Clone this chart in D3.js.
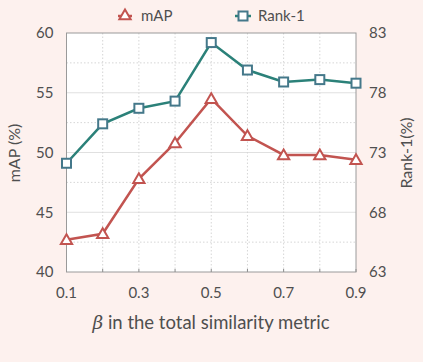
<!DOCTYPE html>
<html>
<head>
<meta charset="utf-8">
<script src="https://cdn.jsdelivr.net/npm/d3@7"></script>
<style>
  body { margin: 0; background: #fdf1ee; }
  svg { display: block; }
  text { font-family: Lato, "Open Sans", sans-serif; fill: #4f4f4f; }
</style>
</head>
<body>
<svg width="423" height="362"></svg>
<script>
// data
var betas = [0.1, 0.2, 0.3, 0.4, 0.5, 0.6, 0.7, 0.8, 0.9];
var mapVals = [42.7, 43.2, 47.8, 50.8, 54.5, 51.4, 49.8, 49.8, 49.4];
var rank1Vals = [72.1, 75.4, 76.7, 77.3, 82.2, 79.9, 78.9, 79.1, 78.8];
var xLabels = [0.1, 0.3, 0.5, 0.7, 0.9];
var leftTicks = [40, 45, 50, 55, 60];
var rightTicks = [63, 68, 73, 78, 83];

var svg = d3.select("svg"),
    margin = {top: 33, right: 67, bottom: 90, left: 66.5},
    width = 423 - margin.left - margin.right,
    height = 362 - margin.top - margin.bottom,
    g = svg.append("g").attr("transform", "translate(" + margin.left + "," + margin.top + ")");

var x = d3.scaleLinear().domain([0.1, 0.9]).range([0, width]);
var yL = d3.scaleLinear().domain([40, 60]).range([height, 0]);
var yR = d3.scaleLinear().domain([63, 83]).range([height, 0]);

var red = "#c25450", teal = "#2b8179", sqStroke = "#44788a";

// plot background
g.append("rect").attr("width", width).attr("height", height).attr("fill", "#fff");

// horizontal grid: solid at labelled ticks, dotted between
var minor = [42.5, 47.5, 52.5, 57.5];
g.selectAll(".hmaj").data([45, 50, 55]).enter().append("line")
  .attr("x1", 0).attr("x2", width)
  .attr("y1", function(d) { return yL(d); }).attr("y2", function(d) { return yL(d); })
  .attr("stroke", "#e0e0e0").attr("stroke-width", 1);
g.selectAll(".hmin").data(minor).enter().append("line")
  .attr("x1", 0).attr("x2", width)
  .attr("y1", function(d) { return yL(d); }).attr("y2", function(d) { return yL(d); })
  .attr("stroke", "#d6d6d6").attr("stroke-dasharray", "1.5,2");
g.selectAll(".vgrid").data(betas.slice(1, -1)).enter().append("line")
  .attr("x1", function(d) { return x(d); }).attr("x2", function(d) { return x(d); })
  .attr("y1", 0).attr("y2", height)
  .attr("stroke", "#d6d6d6").attr("stroke-dasharray", "1.5,2");

// bottom tick marks (inside)
g.selectAll(".xt").data(betas).enter().append("line")
  .attr("x1", function(d) { return x(d); }).attr("x2", function(d) { return x(d); })
  .attr("y1", height).attr("y2", height - 3)
  .attr("stroke", "#888");

// frame
g.append("rect").attr("width", width).attr("height", height)
  .attr("fill", "none").attr("stroke", "#9a9a9a").attr("stroke-width", 1);

// tick labels
g.selectAll(".lt").data(leftTicks).enter().append("text")
  .attr("x", -13).attr("y", function(d) { return yL(d); })
  .attr("dy", "0.35em").attr("text-anchor", "end").attr("font-size", 15)
  .text(function(d) { return d; });
g.selectAll(".rt").data(rightTicks).enter().append("text")
  .attr("x", width + 13).attr("y", function(d) { return yR(d); })
  .attr("dy", "0.35em").attr("text-anchor", "start").attr("font-size", 15)
  .text(function(d) { return d; });
g.selectAll(".bt").data(xLabels).enter().append("text")
  .attr("x", function(d) { return x(d); }).attr("y", height + 21)
  .attr("dy", "0.35em").attr("text-anchor", "middle").attr("font-size", 15)
  .text(function(d) { return d3.format(".1f")(d); });

// axis titles
svg.append("text").attr("transform", "translate(20,153) rotate(-90)")
  .attr("text-anchor", "middle").attr("font-size", 16).text("mAP (%)");
svg.append("text").attr("transform", "translate(412,153) rotate(-90)")
  .attr("text-anchor", "middle").attr("font-size", 16).text("Rank-1(%)");
var xt = svg.append("text").attr("x", 211).attr("y", 329)
  .attr("text-anchor", "middle").attr("font-size", 18.5);
xt.append("tspan").attr("font-style", "italic").attr("font-family", "DejaVu Serif, serif").text("β");
xt.append("tspan").text(" in the total similarity metric");

// lines
var lineL = d3.line().x(function(d, i) { return x(betas[i]); }).y(function(d) { return yL(d); });
var lineR = d3.line().x(function(d, i) { return x(betas[i]); }).y(function(d) { return yR(d); });

g.append("path").attr("d", lineR(rank1Vals)).attr("fill", "none")
  .attr("stroke", teal).attr("stroke-width", 2.5);
g.append("path").attr("d", lineL(mapVals)).attr("fill", "none")
  .attr("stroke", red).attr("stroke-width", 2.5);

var tri = d3.symbol().type(d3.symbolTriangle).size(55);

g.selectAll(".sq").data(rank1Vals).enter().append("rect")
  .attr("x", function(d, i) { return x(betas[i]) - 4.5; })
  .attr("y", function(d) { return yR(d) - 4.5; })
  .attr("width", 9).attr("height", 9)
  .attr("fill", "#fff").attr("stroke", sqStroke).attr("stroke-width", 2);
g.selectAll(".tri").data(mapVals).enter().append("path")
  .attr("d", tri)
  .attr("transform", function(d, i) { return "translate(" + x(betas[i]) + "," + (yL(d) + 1) + ")"; })
  .attr("fill", "#fff").attr("stroke", red).attr("stroke-width", 2);

// legend
var legend = svg.append("g").attr("font-size", 15);
legend.append("line").attr("x1", 118).attr("x2", 132).attr("y1", 16).attr("y2", 16)
  .attr("stroke", red).attr("stroke-width", 2.5);
legend.append("path").attr("d", tri).attr("transform", "translate(125,16)")
  .attr("fill", "#fff").attr("stroke", red).attr("stroke-width", 2);
legend.append("text").attr("x", 141).attr("y", 16).attr("dy", "0.35em").text("mAP");
legend.append("line").attr("x1", 235).attr("x2", 251).attr("y1", 16).attr("y2", 16)
  .attr("stroke", teal).attr("stroke-width", 2.5);
legend.append("rect").attr("x", 238.5).attr("y", 11.5).attr("width", 9).attr("height", 9)
  .attr("fill", "#fff").attr("stroke", sqStroke).attr("stroke-width", 2);
legend.append("text").attr("x", 258).attr("y", 16).attr("dy", "0.35em").text("Rank-1");
</script>
</body>
</html>
